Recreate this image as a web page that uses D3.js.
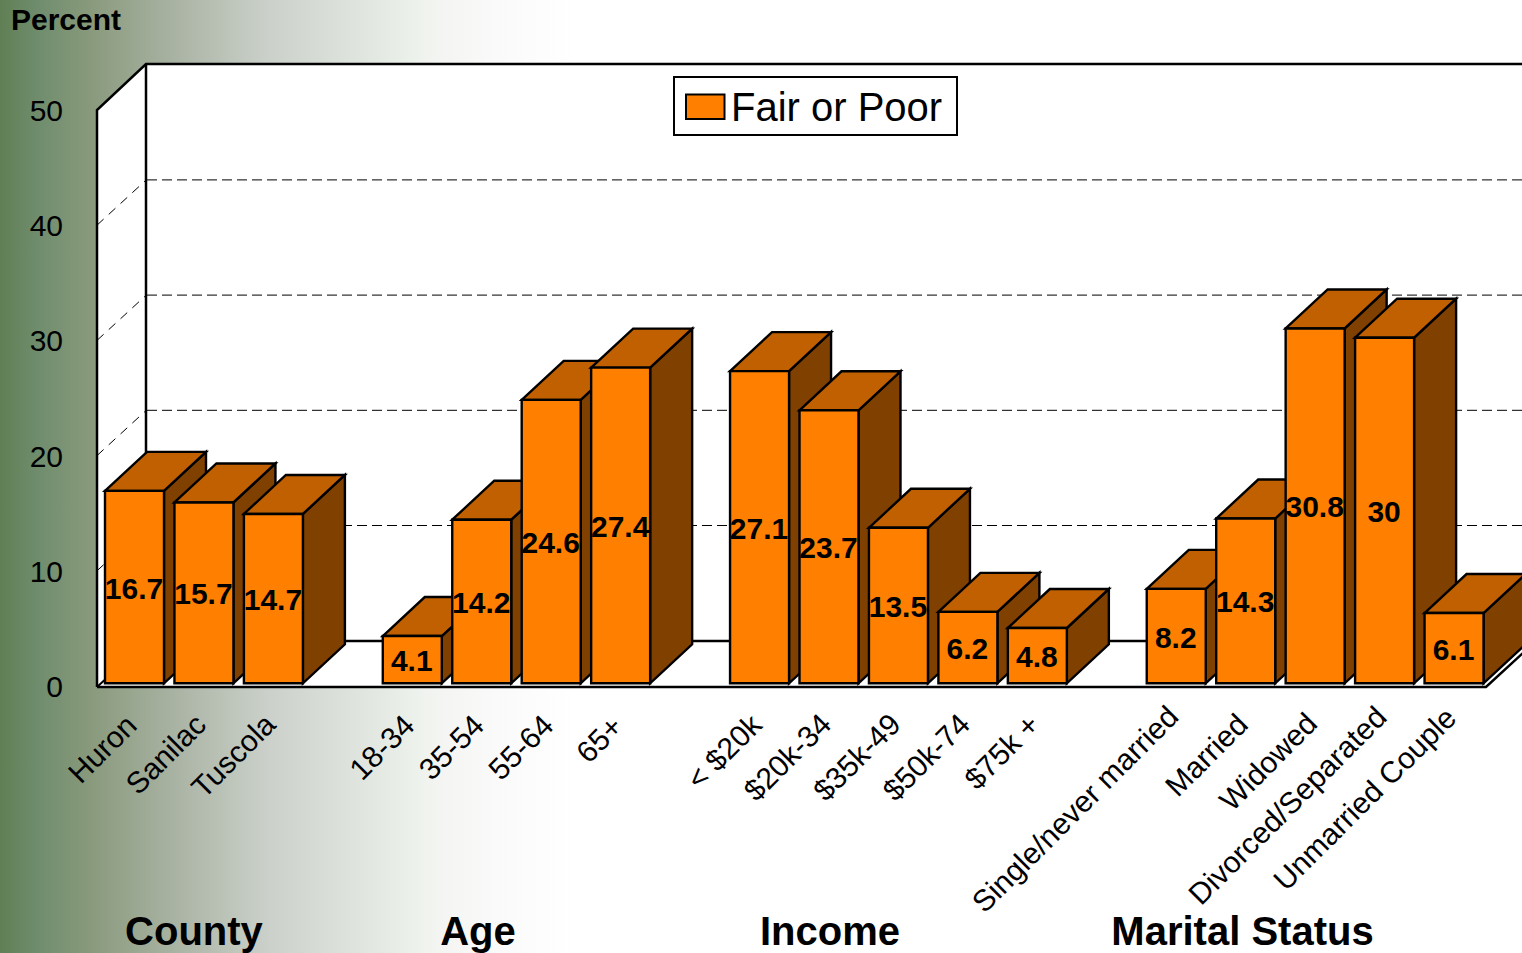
<!DOCTYPE html>
<html><head><meta charset="utf-8">
<script src="https://cdnjs.cloudflare.com/ajax/libs/d3/7.8.5/d3.min.js"></script>
<style>html,body{margin:0;padding:0;background:#fff;overflow:hidden}svg{display:block}text{font-family:"Liberation Sans",Arial,sans-serif;fill:#000}</style>
</head><body><svg id="c" width="1522" height="953"></svg>
<script>
const categories = ["Huron","Sanilac","Tuscola","gap1","18-34","35-54","55-64","65+","gap2","< $20k","$20k-34","$35k-49","$50k-74","$75k +","gap3","Single/never married","Married","Widowed","Divorced/Separated","Unmarried Couple"];
const values = [16.7,15.7,14.7,null,4.1,14.2,24.6,27.4,null,27.1,23.7,13.5,6.2,4.8,null,8.2,14.3,30.8,30,6.1];
const yTicks = [0,10,20,30,40,50];
const groupNames = ["County","Age","Income","Marital Status"];
const seriesName = "Fair or Poor";
const axisTitle = "Percent";

const W=1522,H=953;
const svg=d3.select("#c");
const defs=svg.append("defs");
const g=defs.append("linearGradient").attr("id","bg").attr("gradientUnits","userSpaceOnUse").attr("x1",0).attr("x2",575).attr("y1",0).attr("y2",0);
[[0,"#617f54"],[38,"#6f8d6d"],[88,"#88997b"],[172,"#a8b2a2"],[268,"#cbd1ca"],[402,"#e9efe8"],[440,"#f4f5f2"],[497,"#fafafa"],[575,"#ffffff"]]
 .forEach(s=>g.append("stop").attr("offset",s[0]/575).attr("stop-color",s[1]));
svg.append("rect").attr("width",575).attr("height",H).attr("fill","url(#bg)");

const front={l:97,r:1486,b:686,t:110};
const depth={x:50,y:46};
const barDepth={x:42,y:39};
const barW=59, step=69.45, x0First=105;
const y=d3.scaleLinear().domain([0,50]).range([front.b,front.t]);
const x=d3.scaleBand().domain(categories).range([x0First,x0First+step*(categories.length-1)+barW]).paddingInner((step-barW)/step).paddingOuter(0);
const line=d3.line();

// walls
const wall=svg.append("g");
const fb=front.b+1;
wall.append("path").attr("fill","#fff").attr("d",line([[front.l,front.t],[front.l+depth.x,front.t-depth.y],[W+5,front.t-depth.y],[W+5,fb-depth.y],[front.r+depth.x,fb-depth.y],[front.r,fb],[front.l,fb]])+"Z");
yTicks.slice(1,-1).forEach(t=>{
  wall.append("path").attr("d",line([[front.l,y(t)],[front.l+depth.x,y(t)-depth.y]])).attr("stroke","#000").attr("stroke-width",1).attr("stroke-dasharray","9 7").attr("fill","none");
  wall.append("path").attr("d",line([[front.l+depth.x,y(t)-depth.y+0.7],[W+5,y(t)-depth.y+0.7]])).attr("stroke","#000").attr("stroke-width",1).attr("stroke-dasharray","10 5").attr("fill","none");
});
const st=(s,w)=>s.attr("stroke","#000").attr("stroke-width",w).attr("fill","none");
st(wall.append("path").attr("d",line([[front.l,fb],[front.l,front.t],[front.l+depth.x-1,front.t-depth.y],[W+5,front.t-depth.y]])),2.5);
st(wall.append("path").attr("d",line([[front.l+depth.x-1,front.t-depth.y],[front.l+depth.x-1,fb-depth.y],[W+5,fb-depth.y]])),2.5);
st(wall.append("path").attr("d",line([[front.l,fb],[front.l+depth.x,fb-depth.y]])),2);
st(wall.append("path").attr("d",line([[front.l,fb],[front.r,fb],[W+5,fb-(W+5-front.r)*depth.y/depth.x]])),2.5);

// y labels
svg.append("g").selectAll("text").data(yTicks).join("text")
  .attr("x",63).attr("y",d=>y(d)+0.5).attr("text-anchor","end").attr("dominant-baseline","central")
  .attr("font-size",30).attr("fill","#000").text(d=>d);

// bars
const bars=svg.append("g").selectAll("g").data(categories.map((c,i)=>({c,v:values[i]})).filter(d=>d.v!=null)).join("g")
  .attr("stroke","#000").attr("stroke-width",2.4).attr("stroke-linejoin","miter");
const base=-2.7;
bars.each(function(d){
  const s=d3.select(this),x0=x(d.c),x1=x0+x.bandwidth(),yb=y(0)+base,yt=y(d.v)+base,dx=barDepth.x,dy=barDepth.y;
  s.append("path").attr("fill","#804000").attr("d",line([[x1,yt],[x1+dx,yt-dy],[x1+dx,yb-dy],[x1,yb]])+"Z");
  s.append("path").attr("fill","#c06000").attr("d",line([[x0,yt],[x0+dx,yt-dy],[x1+dx,yt-dy],[x1,yt]])+"Z");
  s.append("path").attr("fill","#ff8000").attr("d",line([[x0,yt],[x1,yt],[x1,yb],[x0,yb]])+"Z");
  s.append("text").attr("x",(x0+x1)/2-0.5).attr("y",(yt+yb)/2+1).attr("text-anchor","middle").attr("dominant-baseline","central")
    .attr("font-size",30).attr("font-weight","bold").attr("stroke","none").attr("fill","#000").text(d3.format(".3~r")(d.v));
});

// x labels: longer rotated labels sit slightly higher
svg.append("g").selectAll("text").data(categories.filter((c,i)=>values[i]!=null)).join("text")
  .attr("text-anchor","end").attr("font-size",30).text(c=>c)
  .attr("transform",function(c){
    const len=this.getComputedTextLength();
    return `translate(${x(c)+x.bandwidth()/2+4},${726.5-(len-100)*0.045}) rotate(-45)`;
  });

// group labels
const groupX=[194,478,830,1242.5];
svg.append("g").selectAll("text").data(groupNames).join("text")
  .attr("x",(d,i)=>groupX[i]).attr("y",945).attr("text-anchor","middle")
  .attr("font-size",40).attr("font-weight","bold").text(d=>d);

svg.append("text").attr("x",11).attr("y",30).attr("font-size",30).attr("font-weight","bold").text(axisTitle);

// legend
const lg=svg.append("g");
lg.append("rect").attr("x",674).attr("y",77).attr("width",283).attr("height",58).attr("fill","#fff").attr("stroke","#000").attr("stroke-width",2);
lg.append("rect").attr("x",686).attr("y",94.5).attr("width",38.5).attr("height",24.5).attr("fill","#ff8000").attr("stroke","#000").attr("stroke-width",2);
lg.append("text").attr("x",731).attr("y",121).attr("font-size",40).text(seriesName);
</script></body></html>
